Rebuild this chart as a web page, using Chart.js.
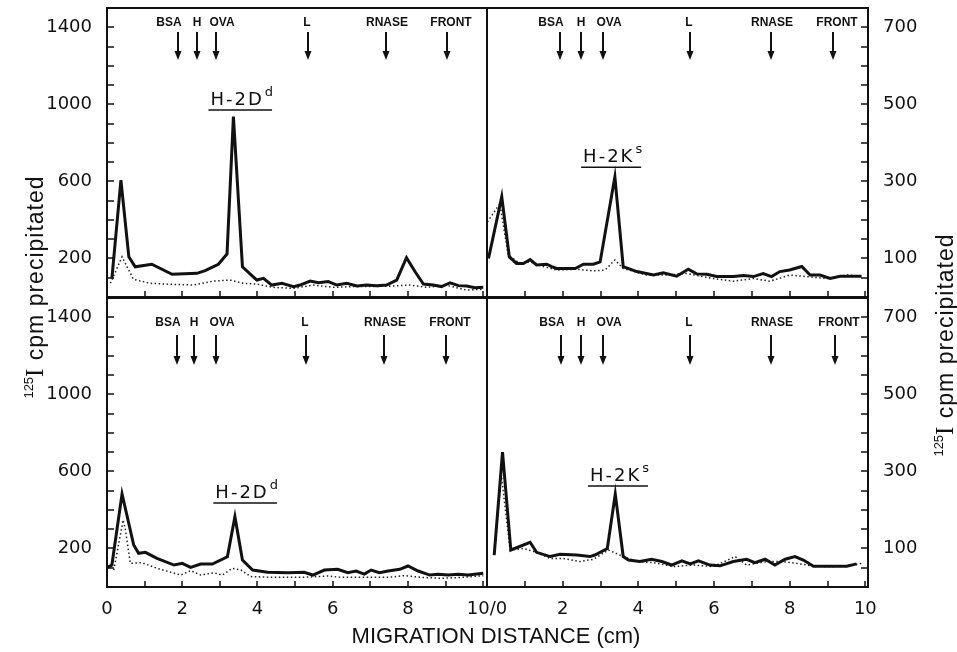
<!DOCTYPE html>
<html lang="en">
<head>
    <meta charset="UTF-8">
    <title>Migration distance profiles</title>
    <script src="https://cdn.jsdelivr.net/npm/chart.js"></script>
    <style>
        body {
            margin: 0;
            background: #fff;
            width: 957px;
            height: 652px;
            position: relative;
            overflow: hidden;
        }
        canvas {
            position: absolute;
            left: 0;
            top: 0;
        }
        .ytitle {
            position: absolute;
            width: 320px;
            height: 28px;
            line-height: 28px;
            text-align: center;
            font-family: "Liberation Sans", sans-serif;
            font-size: 23px;
            letter-spacing: 1px;
            color: #111;
            transform: rotate(-90deg);
            white-space: nowrap;
        }
        .ytitle sup {
            font-size: 13px;
            vertical-align: 10px;
            letter-spacing: 0;
        }
        .ytitle .iso {
            font-family: "Liberation Serif", serif;
            font-size: 25px;
        }
        .xtitle {
            position: absolute;
            left: 296px;
            top: 623px;
            width: 400px;
            text-align: center;
            font-family: "Liberation Sans", sans-serif;
            font-size: 22px;
            color: #111;
            white-space: nowrap;
        }
    </style>
</head>
<body>
    <canvas id="tl" width="957" height="652"></canvas>
    <canvas id="tr" width="957" height="652"></canvas>
    <canvas id="bl" width="957" height="652"></canvas>
    <canvas id="br" width="957" height="652"></canvas>
    <div class="ytitle" style="left:-131px; top:273px;"><sup>125</sup><span class="iso">I</span> cpm precipitated</div>
    <div class="ytitle" style="left:779px; top:331px;"><sup>125</sup><span class="iso">I</span> cpm precipitated</div>
    <div class="xtitle">MIGRATION DISTANCE (cm)</div>

    <script>
        // migration distance (cm) and cpm
        // top left, H-2D^d (left axis)
        const tlSolidX = [0.13, 0.37, 0.58, 0.75, 1.19, 1.73, 2.39, 2.61, 2.96, 3.19, 3.36, 3.6, 3.98, 4.16, 4.38, 4.65, 4.96, 5.13, 5.4, 5.62, 5.88, 6.11, 6.37, 6.64, 6.9, 7.17, 7.43, 7.7, 7.96, 8.19, 8.41, 8.67, 8.89, 9.12, 9.34, 9.56, 9.78, 10.0];
        const tlSolidY = [97, 607, 209, 157, 170, 118, 123, 137, 170, 223, 936, 157, 88, 97, 62, 71, 54, 62, 83, 74, 80, 62, 71, 57, 62, 59, 62, 88, 204, 131, 67, 62, 54, 74, 59, 57, 48, 50];
        const tlDotX = [0.09, 0.4, 0.7, 1.15, 1.58, 2.3, 2.83, 3.27, 3.62, 3.97, 4.42, 4.96, 5.48, 6.02, 6.55, 7.08, 7.6, 8.05, 8.5, 9.0, 9.55, 10.0];
        const tlDotY = [71, 209, 92, 71, 67, 62, 83, 88, 71, 67, 50, 45, 62, 50, 54, 54, 57, 62, 50, 62, 36, 40];

        // top right, H-2K^s (right axis)
        const trSolidX = [0.04, 0.39, 0.59, 0.78, 0.96, 1.14, 1.31, 1.58, 1.71, 1.84, 2.33, 2.55, 2.81, 2.99, 3.38, 3.6, 3.96, 4.4, 4.66, 5.01, 5.32, 5.54, 5.81, 6.07, 6.51, 6.78, 7.04, 7.3, 7.52, 7.74, 8.0, 8.32, 8.54, 8.8, 9.07, 9.33, 9.9];
        const trSolidY = [100, 260, 104, 87, 87, 97, 83, 85, 79, 74, 74, 85, 85, 91, 312, 79, 66, 57, 63, 54, 72, 60, 59, 53, 53, 56, 53, 61, 53, 66, 70, 79, 57, 57, 48, 54, 54];
        const trDotX = [0.01, 0.34, 0.56, 0.87, 1.14, 1.49, 1.84, 2.37, 2.81, 3.12, 3.38, 3.6, 4.22, 4.75, 5.28, 5.98, 6.51, 7.04, 7.48, 8.0, 8.45, 8.98, 9.51, 9.9];
        const trDotY = [195, 242, 109, 87, 91, 79, 70, 72, 68, 70, 96, 74, 57, 57, 61, 48, 41, 48, 41, 57, 53, 48, 57, 54];

        // bottom left, H-2D^d (left axis)
        const blSolidX = [0.02, 0.13, 0.4, 0.71, 0.84, 1.02, 1.33, 1.78, 2.0, 2.22, 2.49, 2.8, 3.2, 3.4, 3.6, 3.87, 4.27, 4.8, 5.24, 5.47, 5.78, 6.13, 6.4, 6.62, 6.84, 7.02, 7.24, 7.47, 7.78, 8.0, 8.27, 8.58, 8.8, 9.07, 9.33, 9.6, 10.0];
        const blSolidY = [102, 114, 483, 218, 175, 180, 149, 114, 123, 102, 119, 119, 157, 365, 140, 88, 76, 74, 76, 62, 88, 92, 74, 83, 67, 88, 74, 83, 92, 109, 83, 62, 66, 62, 66, 62, 71];
        const blDotX = [0.18, 0.43, 0.49, 0.62, 0.93, 1.33, 1.96, 2.22, 2.49, 2.84, 3.07, 3.33, 3.56, 3.82, 4.44, 5.16, 5.87, 6.22, 6.93, 7.47, 7.91, 8.36, 8.89, 9.42, 10.0];
        const blDotY = [88, 348, 296, 123, 126, 97, 62, 85, 62, 74, 62, 97, 88, 54, 50, 50, 57, 50, 50, 50, 59, 50, 45, 50, 59];

        // bottom right, H-2K^s (right axis)
        const brSolidX = [0.19, 0.41, 0.63, 1.14, 1.31, 1.67, 1.93, 2.37, 2.72, 2.85, 3.18, 3.39, 3.6, 3.74, 4.04, 4.35, 4.62, 4.88, 5.15, 5.37, 5.59, 5.89, 6.16, 6.51, 6.86, 7.08, 7.35, 7.61, 7.88, 8.14, 8.36, 8.63, 9.07, 9.51, 9.77];
        const brSolidY = [83, 350, 96, 116, 90, 79, 85, 83, 79, 83, 100, 241, 79, 70, 66, 72, 66, 57, 68, 60, 68, 57, 55, 66, 72, 63, 72, 57, 72, 79, 70, 54, 54, 54, 60];
        const brDotX = [0.2, 0.38, 0.61, 0.96, 1.27, 1.67, 2.02, 2.46, 2.81, 3.21, 3.6, 3.96, 4.4, 4.93, 5.45, 5.98, 6.56, 6.86, 7.39, 7.83, 8.27, 8.63, 9.15, 9.68, 9.9];
        const brDotY = [90, 290, 96, 100, 91, 74, 74, 66, 72, 96, 79, 66, 63, 53, 57, 53, 79, 57, 66, 66, 60, 54, 53, 57, 61];

        // marker proteins and where their arrows sit (cm)
        const markerNames = ['BSA', 'H', 'OVA', 'L', 'RNASE', 'FRONT'];
        const tlMarkers = [1.9, 2.38, 2.91, 5.34, 7.41, 9.05];
        const trMarkers = [1.93, 2.48, 3.07, 5.37, 7.51, 9.15];
        const blMarkers = [1.85, 2.3, 2.89, 5.29, 7.37, 9.02];
        const brMarkers = [1.96, 2.48, 3.07, 5.37, 7.51, 9.2];

        // ticks and tick labels
        const xTickValues = [1, 2, 3, 4, 5, 6, 7, 8, 9, 10];
        const xTickLabels = [0, 2, 4, 6, 8];
        const leftTickValues = [100, 200, 300, 400, 500, 600, 700, 800, 900, 1000, 1100, 1200, 1300, 1400];
        const leftTickLabels = [200, 600, 1000, 1400];
        const rightTickValues = [50, 100, 150, 200, 250, 300, 350, 400, 450, 500, 550, 600, 650, 700];
        const rightTickLabels = [100, 300, 500, 700];

        const INK = '#111';
        const tickFont = { family: '"DejaVu Sans", sans-serif', size: 18 };
        const labelShift = [-9, 0, 6, -1, 1, 4];

        const toPoints = (xs, ys) => xs.map((x, i) => ({ x: x, y: ys[i] }));

        // frame, inward ticks, marker arrows and the panel label
        const decoPlugin = {
            id: 'panelDeco',
            afterDraw(chart, args, opts) {
                const ctx = chart.ctx;
                const a = chart.chartArea;
                const xs = chart.scales.x, ys = chart.scales.y;
                ctx.save();
                ctx.strokeStyle = INK;
                ctx.fillStyle = INK;

                ctx.lineWidth = 2;
                ctx.strokeRect(a.left, a.top, a.right - a.left, a.bottom - a.top);

                ctx.lineWidth = 1.5;
                ctx.beginPath();
                xTickValues.forEach(v => {
                    const px = Math.round(xs.getPixelForValue(v));
                    ctx.moveTo(px, a.bottom);
                    ctx.lineTo(px, a.bottom - 6);
                });
                const edge = opts.side === 'right' ? a.right : a.left;
                const dir = opts.side === 'right' ? -1 : 1;
                opts.yTicks.forEach(v => {
                    const py = Math.round(ys.getPixelForValue(v));
                    ctx.moveTo(edge, py);
                    ctx.lineTo(edge + dir * 7, py);
                });
                ctx.stroke();

                // arrows
                ctx.font = 'bold 12px "Liberation Sans", sans-serif';
                ctx.textAlign = 'center';
                ctx.textBaseline = 'middle';
                opts.markers.forEach((m, i) => {
                    const px = Math.round(xs.getPixelForValue(m));
                    const y0 = a.top + opts.arrowTop, y1 = a.top + opts.arrowBottom;
                    ctx.fillText(markerNames[i], px + labelShift[i], a.top + opts.labelTop);
                    ctx.lineWidth = 2;
                    ctx.beginPath();
                    ctx.moveTo(px, y0);
                    ctx.lineTo(px, y1 - 6);
                    ctx.stroke();
                    ctx.beginPath();
                    ctx.moveTo(px - 3.5, y1 - 9);
                    ctx.lineTo(px + 3.5, y1 - 9);
                    ctx.lineTo(px, y1);
                    ctx.closePath();
                    ctx.fill();
                });

                // panel label, underlined
                const lx = xs.getPixelForValue(opts.labelX);
                const ly = ys.getPixelForValue(opts.labelY);
                ctx.textAlign = 'left';
                ctx.textBaseline = 'alphabetic';
                ctx.font = '18px "DejaVu Sans", sans-serif';
                ctx.letterSpacing = '2px';
                ctx.fillText(opts.label, lx, ly);
                const w = ctx.measureText(opts.label).width;
                ctx.font = '13px "DejaVu Sans", sans-serif';
                ctx.letterSpacing = '0px';
                ctx.fillText(opts.sup, lx + w + 1, ly - 9);
                const sw = ctx.measureText(opts.sup).width;
                ctx.lineWidth = 1.5;
                ctx.beginPath();
                ctx.moveTo(lx - 2, ly + 5);
                ctx.lineTo(lx + w + sw, ly + 5);
                ctx.stroke();
                ctx.restore();
            }
        };

        function panelChart(id, cfg) {
            const right = cfg.side === 'right';
            const yLabels = right ? rightTickLabels : leftTickLabels;
            new Chart(document.getElementById(id), {
                type: 'line',
                data: {
                    datasets: [
                        {
                            data: toPoints(cfg.solidX, cfg.solidY),
                            borderColor: INK,
                            borderWidth: 3,
                            pointRadius: 0,
                            tension: 0
                        },
                        {
                            data: toPoints(cfg.dotX, cfg.dotY),
                            borderColor: '#222',
                            borderWidth: 1.5,
                            borderDash: [1.5, 2.5],
                            pointRadius: 0,
                            tension: 0
                        }
                    ]
                },
                options: {
                    responsive: false,
                    animation: false,
                    devicePixelRatio: 1,
                    layout: { padding: cfg.padding },
                    plugins: {
                        legend: { display: false },
                        tooltip: { enabled: false },
                        panelDeco: {
                            side: cfg.side,
                            yTicks: right ? rightTickValues : leftTickValues,
                            markers: cfg.markers,
                            labelTop: cfg.labelTop,
                            arrowTop: cfg.arrowTop,
                            arrowBottom: cfg.arrowBottom,
                            label: cfg.label,
                            sup: cfg.sup,
                            labelX: cfg.labelX,
                            labelY: cfg.labelY
                        }
                    },
                    scales: {
                        x: {
                            type: 'linear',
                            position: 'bottom',
                            min: 0,
                            max: cfg.xMax,
                            grid: { display: false },
                            border: { display: false },
                            ticks: {
                                display: cfg.showX,
                                stepSize: 1,
                                autoSkip: false,
                                includeBounds: false,
                                maxRotation: 0,
                                padding: 4,
                                color: INK,
                                font: tickFont,
                                callback: cfg.xLabel
                            },
                            afterFit: s => {
                                s.height = cfg.showX ? 40 : 0;
                                s.paddingLeft = 0;
                                s.paddingRight = 0;
                            }
                        },
                        y: {
                            position: cfg.side,
                            min: 0,
                            max: cfg.yMax,
                            grid: { display: false },
                            border: { display: false },
                            ticks: {
                                stepSize: cfg.yMax / 15,
                                autoSkip: false,
                                padding: 7,
                                color: INK,
                                font: tickFont,
                                callback: v => yLabels.includes(v) ? String(v) : ''
                            },
                            afterFit: s => {
                                s.width = 60;
                                s.paddingTop = 0;
                                s.paddingBottom = 0;
                            }
                        }
                    }
                },
                plugins: [decoPlugin]
            });
        }

        const leftX = v => (xTickLabels.includes(v) ? String(v) : '');
        const rightX = v => (v === 0 ? '10/0' : (xTickLabels.includes(v) || v === 10 ? String(v) : ''));

        panelChart('tl', {
            solidX: tlSolidX, solidY: tlSolidY, dotX: tlDotX, dotY: tlDotY,
            side: 'left', yMax: 1500, xMax: 10.1, showX: false, xLabel: leftX,
            padding: { left: 47, right: 470, top: 8, bottom: 355 },
            markers: tlMarkers, labelTop: 15, arrowTop: 24, arrowBottom: 52,
            label: 'H-2D', sup: 'd', labelX: 2.75, labelY: 996
        });
        panelChart('tr', {
            solidX: trSolidX, solidY: trSolidY, dotX: trDotX, dotY: trDotY,
            side: 'right', yMax: 750, xMax: 10.07, showX: false, xLabel: rightX,
            padding: { left: 487, right: 29, top: 8, bottom: 355 },
            markers: trMarkers, labelTop: 15, arrowTop: 24, arrowBottom: 52,
            label: 'H-2K', sup: 's', labelX: 2.54, labelY: 350
        });
        panelChart('bl', {
            solidX: blSolidX, solidY: blSolidY, dotX: blDotX, dotY: blDotY,
            side: 'left', yMax: 1500, xMax: 10.1, showX: true, xLabel: leftX,
            padding: { left: 47, right: 470, top: 298, bottom: 25 },
            markers: blMarkers, labelTop: 25, arrowTop: 37, arrowBottom: 67,
            label: 'H-2D', sup: 'd', labelX: 2.88, labelY: 462
        });
        panelChart('br', {
            solidX: brSolidX, solidY: brSolidY, dotX: brDotX, dotY: brDotY,
            side: 'right', yMax: 750, xMax: 10.07, showX: true, xLabel: rightX,
            padding: { left: 487, right: 29, top: 298, bottom: 25 },
            markers: brMarkers, labelTop: 25, arrowTop: 37, arrowBottom: 67,
            label: 'H-2K', sup: 's', labelX: 2.72, labelY: 275
        });
    </script>
</body>
</html>
